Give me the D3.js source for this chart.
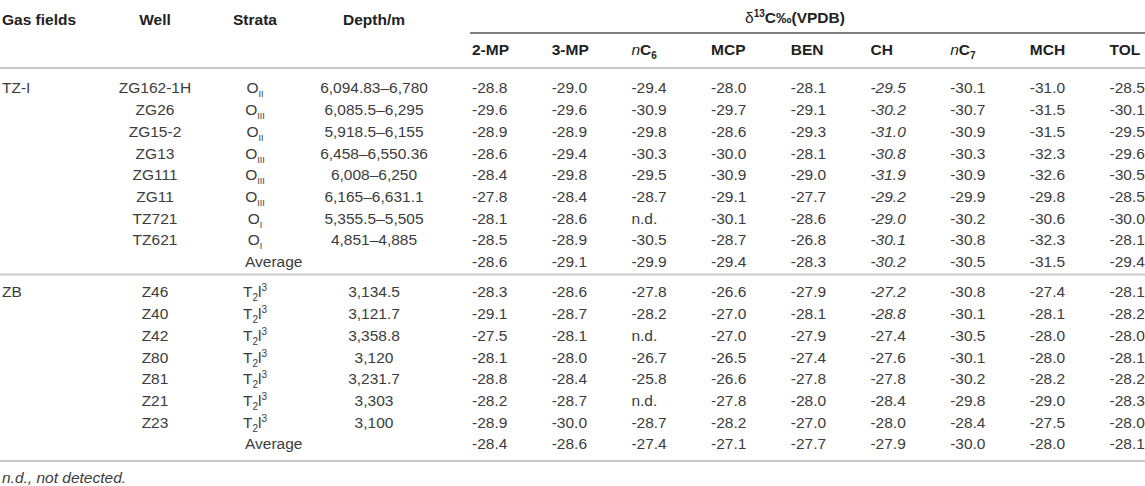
<!DOCTYPE html>
<html>
<head>
<meta charset="utf-8">
<script src="https://cdn.jsdelivr.net/npm/d3@7"></script>
<style>
  body { margin: 0; background: #fff; }
  svg { display: block; font-family: "Helvetica Neue", Helvetica, Arial, "Liberation Sans", sans-serif; }
  .hdr { font-weight: bold; fill: #222; font-size: 15.5px; }
  .cell { fill: #3c3c3c; font-size: 15.5px; }
</style>
</head>
<body>
<div id="chart"></div>
<script>
"use strict";

// table data
const compounds = ["2-MP", "3-MP", "nC6", "MCP", "BEN", "CH", "nC7", "MCH", "TOL"];

const tzWells = ["ZG162-1H", "ZG26", "ZG15-2", "ZG13", "ZG111", "ZG11", "TZ721", "TZ621"];
const tzStrata = ["II", "III", "II", "III", "III", "III", "I", "I"];
const tzDepths = ["6,094.83–6,780", "6,085.5–6,295", "5,918.5–6,155", "6,458–6,550.36",
  "6,008–6,250", "6,165–6,631.1", "5,355.5–5,505", "4,851–4,885"];
const tzValues = [
  ["-28.8", "-29.0", "-29.4", "-28.0", "-28.1", "-29.5", "-30.1", "-31.0", "-28.5"],
  ["-29.6", "-29.6", "-30.9", "-29.7", "-29.1", "-30.2", "-30.7", "-31.5", "-30.1"],
  ["-28.9", "-28.9", "-29.8", "-28.6", "-29.3", "-31.0", "-30.9", "-31.5", "-29.5"],
  ["-28.6", "-29.4", "-30.3", "-30.0", "-28.1", "-30.8", "-30.3", "-32.3", "-29.6"],
  ["-28.4", "-29.8", "-29.5", "-30.9", "-29.0", "-31.9", "-30.9", "-32.6", "-30.5"],
  ["-27.8", "-28.4", "-28.7", "-29.1", "-27.7", "-29.2", "-29.9", "-29.8", "-28.5"],
  ["-28.1", "-28.6", "n.d.", "-30.1", "-28.6", "-29.0", "-30.2", "-30.6", "-30.0"],
  ["-28.5", "-28.9", "-30.5", "-28.7", "-26.8", "-30.1", "-30.8", "-32.3", "-28.1"]
];
const tzAverage = ["-28.6", "-29.1", "-29.9", "-29.4", "-28.3", "-30.2", "-30.5", "-31.5", "-29.4"];

const zbWells = ["Z46", "Z40", "Z42", "Z80", "Z81", "Z21", "Z23"];
const zbDepths = ["3,134.5", "3,121.7", "3,358.8", "3,120", "3,231.7", "3,303", "3,100"];
const zbValues = [
  ["-28.3", "-28.6", "-27.8", "-26.6", "-27.9", "-27.2", "-30.8", "-27.4", "-28.1"],
  ["-29.1", "-28.7", "-28.2", "-27.0", "-28.1", "-28.8", "-30.1", "-28.1", "-28.2"],
  ["-27.5", "-28.1", "n.d.", "-27.0", "-27.9", "-27.4", "-30.5", "-28.0", "-28.0"],
  ["-28.1", "-28.0", "-26.7", "-26.5", "-27.4", "-27.6", "-30.1", "-28.0", "-28.1"],
  ["-28.8", "-28.4", "-25.8", "-26.6", "-27.8", "-27.8", "-30.2", "-28.2", "-28.2"],
  ["-28.2", "-28.7", "n.d.", "-27.8", "-28.0", "-28.4", "-29.8", "-29.0", "-28.3"],
  ["-28.9", "-30.0", "-28.7", "-28.2", "-27.0", "-28.0", "-28.4", "-27.5", "-28.0"]
];
const zbAverage = ["-28.4", "-28.6", "-27.4", "-27.1", "-27.7", "-27.9", "-30.0", "-28.0", "-28.1"];
// cells printed in italics (row index within section, compound)
const zbItalic = [[0, "CH"], [1, "CH"]];

const W = 1145, H = 486;

const svg = d3.select("#chart").append("svg")
  .attr("width", W)
  .attr("height", H);

// build row list from the arrays
const rows = [];
tzWells.forEach((w, i) => rows.push({
  field: i === 0 ? "TZ-I" : "", well: w, strata: { kind: "O", sub: tzStrata[i] },
  depth: tzDepths[i], vals: tzValues[i], section: 0, italic: ["CH"]
}));
rows.push({ field: "", well: "", strata: { kind: "avg" }, depth: "", vals: tzAverage, section: 0, italic: ["CH"] });
zbWells.forEach((w, i) => rows.push({
  field: i === 0 ? "ZB" : "", well: w, strata: { kind: "T" },
  depth: zbDepths[i], vals: zbValues[i], section: 1,
  italic: zbItalic.filter((d) => d[0] === i).map((d) => d[1])
}));
rows.push({ field: "", well: "", strata: { kind: "avg" }, depth: "", vals: zbAverage, section: 1, italic: [] });

// scales
const y = d3.scaleLinear().domain([0, 1]).range([88, 109.7]);
const rowY = (d, i) => y(i + d.section * 0.4);
const xCol = d3.scaleLinear().domain([0, compounds.length - 1]).range([472, 1109.5]);
const xWell = 155, xStrata = 255, xDepth = 374;

// horizontal rules
const lastTz = tzWells.length;
const lastRow = rows.length - 1;
const rules = [
  { y: 68, x1: 0, x2: W, c: "#c9c9c9", w: 2 },
  { y: y(lastTz) + 13, x1: 0, x2: W, c: "#c9c9c9", w: 2 },
  { y: y(lastRow + 0.4) + 17, x1: 0, x2: W, c: "#c9c9c9", w: 2 },
  { y: 33, x1: xCol(0) - 2, x2: W, c: "#555", w: 1.3 }
];
svg.append("g").selectAll("line")
  .data(rules)
  .enter()
  .append("line")
  .attr("x1", (d) => d.x1)
  .attr("x2", (d) => d.x2)
  .attr("y1", (d) => d.y)
  .attr("y2", (d) => d.y)
  .attr("stroke", (d) => d.c)
  .attr("stroke-width", (d) => d.w);

// header row 1
const head = svg.append("g").attr("class", "hdr");
const h1 = 20;
head.append("text").attr("x", 2).attr("y", h1).attr("dy", "0.35em").text("Gas fields");
head.append("text").attr("x", xWell).attr("y", h1).attr("dy", "0.35em").attr("text-anchor", "middle").text("Well");
head.append("text").attr("x", xStrata).attr("y", h1).attr("dy", "0.35em").attr("text-anchor", "middle").text("Strata");
head.append("text").attr("x", xDepth).attr("y", h1).attr("dy", "0.35em").attr("text-anchor", "middle").text("Depth/m");

const delta = head.append("text").attr("x", 795).attr("y", 18).attr("dy", "0.35em").attr("text-anchor", "middle");
delta.append("tspan").attr("font-weight", "normal").text("δ");
delta.append("tspan").attr("font-size", "10px").attr("dy", -6).text("13");
delta.append("tspan").attr("dy", 6).text("C‰(VPDB)");

// header row 2: compound names
head.selectAll(".comp")
  .data(compounds)
  .enter()
  .append("text")
  .attr("class", "comp")
  .attr("x", (d, i) => xCol(i))
  .attr("y", 50)
  .attr("dy", "0.35em")
  .each(function (d) {
    const t = d3.select(this);
    if (d[0] === "n") {
      t.append("tspan").attr("font-style", "italic").attr("font-weight", "normal").text("n");
      t.append("tspan").text(d.slice(1, 2));
      t.append("tspan").attr("font-size", "10px").attr("dy", 4).text(d.slice(2));
    } else {
      t.text(d);
    }
  });

// body rows
const body = svg.append("g").attr("class", "cell");
const row = body.selectAll(".row")
  .data(rows)
  .enter()
  .append("g")
  .attr("class", "row")
  .attr("transform", (d, i) => `translate(0,${rowY(d, i)})`);

row.append("text").attr("x", 2).attr("dy", "0.35em").text((d) => d.field);
row.append("text").attr("x", xWell).attr("dy", "0.35em").attr("text-anchor", "middle").text((d) => d.well);
row.append("text").attr("x", xDepth).attr("dy", "0.35em").attr("text-anchor", "middle").text((d) => d.depth);

// strata with sub/superscripts
row.append("text")
  .attr("x", (d) => (d.strata.kind === "avg" ? 245 : xStrata))
  .attr("dy", "0.35em")
  .attr("text-anchor", (d) => (d.strata.kind === "avg" ? "start" : "middle"))
  .each(function (d) {
    const t = d3.select(this);
    if (d.strata.kind === "avg") {
      t.text("Average");
    } else if (d.strata.kind === "O") {
      t.append("tspan").text("O");
      t.append("tspan").attr("font-size", "9px").attr("dy", 4).text(d.strata.sub);
    } else {
      t.append("tspan").text("T");
      t.append("tspan").attr("font-size", "10px").attr("dy", 4).text("2");
      t.append("tspan").attr("dy", -4).text("l");
      t.append("tspan").attr("font-size", "10px").attr("dy", -6).text("3");
    }
  });

// isotope values
row.selectAll(".val")
  .data((d) => d.vals.map((v, j) => ({ v: v, j: j, it: d.italic.includes(compounds[j]) })))
  .enter()
  .append("text")
  .attr("class", "val")
  .attr("x", (d) => xCol(d.j))
  .attr("dy", "0.35em")
  .attr("font-style", (d) => (d.it ? "italic" : "normal"))
  .text((d) => d.v);

// footnote
svg.append("text")
  .attr("class", "cell")
  .attr("x", 2)
  .attr("y", 478)
  .attr("dy", "0.35em")
  .attr("font-style", "italic")
  .text("n.d., not detected.");
</script>
</body>
</html>
